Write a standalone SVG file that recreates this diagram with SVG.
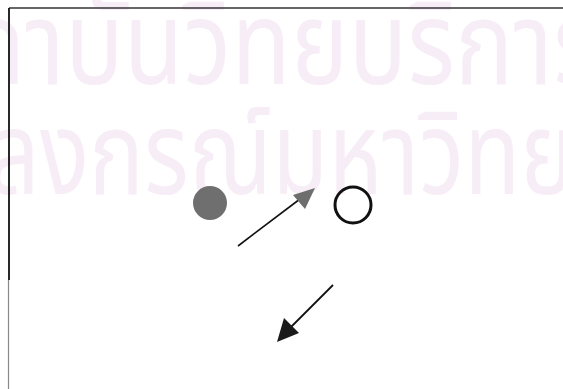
<svg xmlns="http://www.w3.org/2000/svg" width="563" height="389" viewBox="0 0 563 389">
<style>
.wm{font-family:"Noto Sans Thai","Noto Sans","DejaVu Sans",sans-serif;font-size:116px;fill:#f7edf6}
</style>
<rect width="563" height="389" fill="#fff"/>
<g id="watermark">
<text class="wm" transform="scale(0.84,1)" x="-106" y="84">สถาบันวิทยบริการ</text>
<text class="wm" transform="scale(0.79,1)" x="-202" y="194">จุฬาลงกรณ์มหาวิทยาลัย</text>
</g>
<g id="frame">
<line x1="9" y1="8" x2="563" y2="8" stroke="#333" stroke-width="1.6"/>
<line x1="9" y1="8" x2="9" y2="280" stroke="#111" stroke-width="1.8"/>
<line x1="8.5" y1="280" x2="8.5" y2="389" stroke="#888" stroke-width="1.2"/>
</g>
<g id="filled-circle">
<circle cx="210" cy="203" r="17" fill="#6f6f6f"/>
</g>
<g id="open-circle">
<circle cx="353" cy="205" r="18" fill="none" stroke="#111" stroke-width="3"/>
</g>
<g id="connectors">
<line x1="238" y1="246" x2="300" y2="199" stroke="#111" stroke-width="1.6"/>
<path d="M315,188 L293,195 L305,209 z" fill="#6e6e6e"/>
<line x1="333" y1="285" x2="290" y2="328" stroke="#111" stroke-width="1.8"/>
<path d="M277,342 L284,318 L299,333 z" fill="#1a1a1a"/>
</g>
</svg>
